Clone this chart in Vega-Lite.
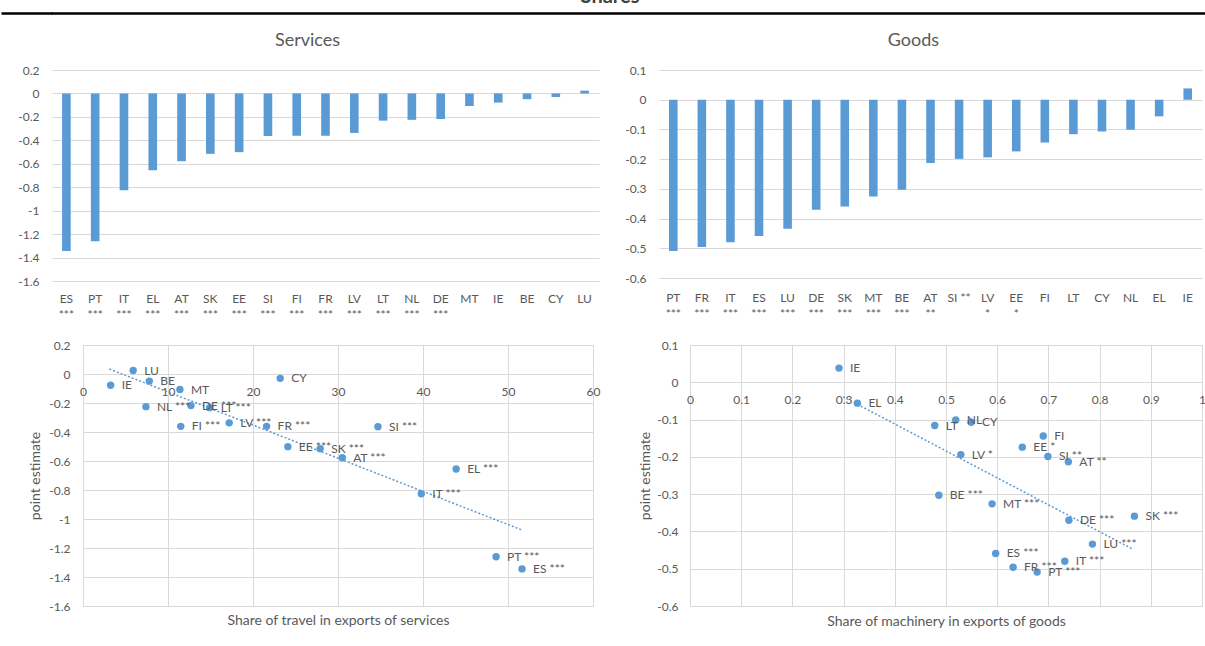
{
  "$schema": "https://vega.github.io/schema/vega-lite/v6.json",
  "padding": {"left": -1, "top": -14, "right": 0, "bottom": 0},
  "background": "white",
  "config": {
    "font": "Lato",
    "view": {"stroke": null},
    "axis": {"labelColor": "#595959", "titleColor": "#595959", "labelFontSize": 12, "titleFontSize": 14, "titleFontWeight": "normal", "gridColor": "#D9D9D9", "gridWidth": 1, "domain": false, "ticks": false, "labelOverlap": false, "labelFont": "Lato", "titleFont": "Lato"},
    "title": {"color": "#595959", "fontSize": 18, "fontWeight": "normal", "font": "Lato"},
    "text": {"font": "Lato"}
  },
  "datasets": {
    "services_bars": [
      {"label": "ES|***", "value": -1.344}, {"label": "PT|***", "value": -1.26}, {"label": "IT|***", "value": -0.826},
      {"label": "EL|***", "value": -0.655}, {"label": "AT|***", "value": -0.578}, {"label": "SK|***", "value": -0.515},
      {"label": "EE|***", "value": -0.501}, {"label": "SI|***", "value": -0.363}, {"label": "FI|***", "value": -0.361},
      {"label": "FR|***", "value": -0.361}, {"label": "LV|***", "value": -0.337}, {"label": "LT|***", "value": -0.232},
      {"label": "NL|***", "value": -0.225}, {"label": "DE|***", "value": -0.218}, {"label": "MT", "value": -0.107},
      {"label": "IE", "value": -0.078}, {"label": "BE", "value": -0.049}, {"label": "CY", "value": -0.03}, {"label": "LU", "value": 0.024}
    ],
    "goods_bars": [
      {"label": "PT|***", "value": -0.509}, {"label": "FR|***", "value": -0.496}, {"label": "IT|***", "value": -0.48},
      {"label": "ES|***", "value": -0.459}, {"label": "LU|***", "value": -0.434}, {"label": "DE|***", "value": -0.37},
      {"label": "SK|***", "value": -0.359}, {"label": "MT|***", "value": -0.326}, {"label": "BE|***", "value": -0.303},
      {"label": "AT|**", "value": -0.213}, {"label": "SI **", "value": -0.199}, {"label": "LV|*", "value": -0.194},
      {"label": "EE|*", "value": -0.174}, {"label": "FI", "value": -0.144}, {"label": "LT", "value": -0.116},
      {"label": "CY", "value": -0.107}, {"label": "NL", "value": -0.101}, {"label": "EL", "value": -0.056}, {"label": "IE", "value": 0.038}
    ],
    "services_scatter": [
      {"x": 5.9, "y": 0.024, "label": "LU"}, {"x": 3.25, "y": -0.078, "label": "IE"}, {"x": 7.8, "y": -0.049, "label": "BE"},
      {"x": 11.4, "y": -0.107, "label": "MT"}, {"x": 7.4, "y": -0.225, "label": "NL ***"}, {"x": 12.7, "y": -0.218, "label": "DE ***"},
      {"x": 14.9, "y": -0.232, "label": "LT ***"}, {"x": 11.5, "y": -0.361, "label": "FI ***"}, {"x": 17.2, "y": -0.337, "label": "LV ***"},
      {"x": 21.6, "y": -0.361, "label": "FR ***"}, {"x": 23.2, "y": -0.03, "label": "CY"}, {"x": 24.1, "y": -0.501, "label": "EE ***"},
      {"x": 27.9, "y": -0.515, "label": "SK ***"}, {"x": 30.5, "y": -0.578, "label": "AT ***"}, {"x": 34.7, "y": -0.363, "label": "SI ***"},
      {"x": 43.9, "y": -0.655, "label": "EL ***"}, {"x": 39.8, "y": -0.826, "label": "IT ***"}, {"x": 48.6, "y": -1.26, "label": "PT ***"},
      {"x": 51.65, "y": -1.344, "label": "ES ***"}
    ],
    "services_trend": [{"x": 3.1, "y": 0.034}, {"x": 51.65, "y": -1.076}],
    "goods_scatter": [
      {"x": 0.291, "y": 0.038, "label": "IE"}, {"x": 0.327, "y": -0.056, "label": "EL"}, {"x": 0.478, "y": -0.116, "label": "LT"},
      {"x": 0.519, "y": -0.101, "label": "NL"}, {"x": 0.549, "y": -0.107, "label": "CY"}, {"x": 0.69, "y": -0.144, "label": "FI"},
      {"x": 0.649, "y": -0.174, "label": "EE *"}, {"x": 0.529, "y": -0.194, "label": "LV *"}, {"x": 0.699, "y": -0.199, "label": "SI **"},
      {"x": 0.739, "y": -0.213, "label": "AT **"}, {"x": 0.486, "y": -0.303, "label": "BE ***"}, {"x": 0.59, "y": -0.326, "label": "MT ***"},
      {"x": 0.74, "y": -0.37, "label": "DE ***"}, {"x": 0.868, "y": -0.359, "label": "SK ***"}, {"x": 0.786, "y": -0.434, "label": "LU ***"},
      {"x": 0.597, "y": -0.459, "label": "ES ***"}, {"x": 0.732, "y": -0.48, "label": "IT ***"}, {"x": 0.631, "y": -0.496, "label": "FR ***"},
      {"x": 0.678, "y": -0.509, "label": "PT ***"}
    ],
    "goods_trend": [{"x": 0.299, "y": -0.039}, {"x": 0.864, "y": -0.447}]
  },
  "spacing": 17,
  "vconcat": [
    {
      "width": 1160, "height": 1,
      "title": {"text": "Shares", "fontWeight": "bold", "fontSize": 20, "color": "#404040", "anchor": "middle", "offset": 5, "dx": -22},
      "view": {"stroke": "black", "strokeWidth": 1.5},
      "data": {"values": [{"v": 1}]},
      "mark": {"type": "point", "size": 0, "opacity": 0},
      "encoding": {
        "y": {"field": "v", "type": "quantitative", "scale": {"domain": [0, 1]},
              "axis": {"values": [1], "ticks": true, "tickSize": 51, "tickColor": "black", "tickWidth": 2.5, "labels": false, "grid": false, "domain": false, "title": null}}
      }
    },
    {
      "spacing": 8,
      "vconcat": [
        {
          "spacing": 25,
          "hconcat": [
            {
              "width": 547, "height": 211,
              "title": {"text": "Services", "frame": "bounds", "offset": 14},
              "data": {"name": "services_bars"},
              "mark": {"type": "bar", "color": "#5B9BD5"},
              "encoding": {
                "x": {"field": "label", "type": "nominal", "sort": null, "scale": {"paddingInner": 0.7, "paddingOuter": 0.35},
                      "axis": {"title": null, "labelAngle": 0, "labelExpr": "split(datum.value, '|')", "labelLineHeight": 16.5, "labelPadding": 12, "minExtent": 50, "maxExtent": 50}},
                "y": {"field": "value", "type": "quantitative", "scale": {"domain": [-1.6, 0.2], "nice": false},
                      "axis": {"title": null, "values": [0.2, 0, -0.2, -0.4, -0.6, -0.8, -1, -1.2, -1.4, -1.6], "labelExpr": "datum.value + ''", "labelPadding": 13, "minExtent": 36, "maxExtent": 36}}
              }
            },
            {
              "width": 543, "height": 208,
              "title": {"text": "Goods", "frame": "bounds", "offset": 14},
              "data": {"name": "goods_bars"},
              "mark": {"type": "bar", "color": "#5B9BD5"},
              "encoding": {
                "x": {"field": "label", "type": "nominal", "sort": null, "scale": {"paddingInner": 0.7, "paddingOuter": 0.35},
                      "axis": {"title": null, "labelAngle": 0, "labelExpr": "split(datum.value, '|')", "labelLineHeight": 16.5, "labelPadding": 14, "minExtent": 50, "maxExtent": 50}},
                "y": {"field": "value", "type": "quantitative", "scale": {"domain": [-0.6, 0.1], "nice": false},
                      "axis": {"title": null, "values": [0.1, 0, -0.1, -0.2, -0.3, -0.4, -0.5, -0.6], "labelExpr": "datum.value + ''", "labelPadding": 13, "minExtent": 34, "maxExtent": 34}}
              }
            }
          ]
        },
        {
          "spacing": -25,
          "hconcat": [
            {
              "width": 1, "height": 261,
              "data": {"values": [{"a": 1}]},
              "mark": {"type": "point", "size": 0, "opacity": 0}
            },
            {
              "spacing": 38,
              "hconcat": [
                {
                  "width": 510, "height": 261,
                  "encoding": {
                    "x": {"field": "x", "type": "quantitative", "scale": {"domain": [0, 60], "nice": false},
                          "axis": {"values": [0, 10, 20, 30, 40, 50, 60], "labelExpr": "datum.value + ''", "labelFlush": false, "offset": -232, "labelPadding": 12,
                                   "title": "Share of travel in exports of services", "titleY": 246, "titleBaseline": "middle", "grid": true}},
                    "y": {"field": "y", "type": "quantitative", "scale": {"domain": [-1.6, 0.2], "nice": false},
                          "axis": {"values": [0.2, 0, -0.2, -0.4, -0.6, -0.8, -1, -1.2, -1.4, -1.6], "labelExpr": "datum.value + ''", "labelPadding": 13,
                                   "title": "point estimate", "titlePadding": 6, "grid": true}}
                  },
                  "layer": [
                    {
                      "data": {"name": "services_trend"},
                      "mark": {"type": "line", "color": "#5B9BD5", "strokeDash": [2, 2], "strokeWidth": 1.5}
                    },
                    {
                      "data": {"name": "services_scatter"},
                      "mark": {"type": "point", "filled": true, "size": 55, "color": "#5B9BD5", "opacity": 1}
                    },
                    {
                      "data": {"name": "services_scatter"},
                      "mark": {"type": "text", "align": "left", "baseline": "middle", "dx": 11, "fontSize": 12, "color": "#595959"},
                      "encoding": {"text": {"field": "label"}}
                    }
                  ]
                },
                {
                  "width": 512, "height": 261,
                  "encoding": {
                    "x": {"field": "x", "type": "quantitative", "scale": {"domain": [0, 1], "nice": false},
                          "axis": {"values": [0, 0.1, 0.2, 0.3, 0.4, 0.5, 0.6, 0.7, 0.8, 0.9, 1], "labelExpr": "datum.value + ''", "labelFlush": false, "offset": -223.7, "labelPadding": 12,
                                   "title": "Share of machinery in exports of goods", "titleY": 239, "titleBaseline": "middle", "grid": true}},
                    "y": {"field": "y", "type": "quantitative", "scale": {"domain": [-0.6, 0.1], "nice": false},
                          "axis": {"values": [0.1, 0, -0.1, -0.2, -0.3, -0.4, -0.5, -0.6], "labelExpr": "datum.value + ''", "labelPadding": 12,
                                   "title": "point estimate", "titlePadding": 4, "grid": true}}
                  },
                  "layer": [
                    {
                      "data": {"name": "goods_trend"},
                      "mark": {"type": "line", "color": "#5B9BD5", "strokeDash": [2, 2], "strokeWidth": 1.5}
                    },
                    {
                      "data": {"name": "goods_scatter"},
                      "mark": {"type": "point", "filled": true, "size": 55, "color": "#5B9BD5", "opacity": 1}
                    },
                    {
                      "data": {"name": "goods_scatter"},
                      "mark": {"type": "text", "align": "left", "baseline": "middle", "dx": 11, "fontSize": 12, "color": "#595959"},
                      "encoding": {"text": {"field": "label"}}
                    }
                  ]
                }
              ]
            }
          ]
        }
      ]
    }
  ]
}
